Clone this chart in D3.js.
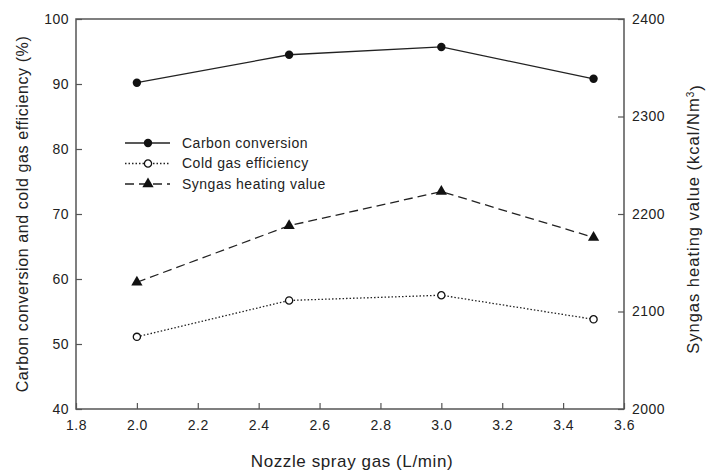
<!DOCTYPE html>
<html>
<head>
<meta charset="utf-8">
<script src="https://cdn.jsdelivr.net/npm/d3@7"></script>
<style>
  body { margin: 0; background: #fff; }
  svg { font-family: "Liberation Sans", Arial, sans-serif; }
</style>
</head>
<body>
<div id="chart"></div>
<script>
const sprayGas = [2.0, 2.5, 3.0, 3.5];
const carbonConversion = [90.2, 94.5, 95.7, 90.8];
const coldGasEfficiency = [51.1, 56.7, 57.5, 53.8];
const heatingValue = [2130, 2188, 2223, 2176];

const xTicks = [1.8, 2.0, 2.2, 2.4, 2.6, 2.8, 3.0, 3.2, 3.4, 3.6];
const yLeftTicks = [40, 50, 60, 70, 80, 90, 100];
const yRightTicks = [2000, 2100, 2200, 2300, 2400];

const legendItems = [
    { label: "Carbon conversion", dash: null, marker: "dot" },
    { label: "Cold gas efficiency", dash: "1.5,2", marker: "circle" },
    { label: "Syngas heating value", dash: "9,5", marker: "triangle" }
];

const W = 706, H = 472;
const margin = { top: 19, right: 82, bottom: 63, left: 76 };
const width = W - margin.left - margin.right;
const height = H - margin.top - margin.bottom;
const axisColor = "#555";
const textColor = "#222";

const svg = d3.select("#chart").append("svg")
    .attr("width", W)
    .attr("height", H);

const g = svg.append("g")
    .attr("transform", `translate(${margin.left},${margin.top})`);

// Scales
const x = d3.scaleLinear().domain([1.8, 3.6]).range([0, width]);
const yL = d3.scaleLinear().domain([40, 100]).range([height, 0]);
const yR = d3.scaleLinear().domain([2000, 2400]).range([height, 0]);

// Axes (ticks point inward)
function styleAxis(sel) {
    sel.select(".domain").remove();
    sel.selectAll(".tick line").attr("stroke", axisColor).attr("stroke-width", 1.2);
    sel.selectAll(".tick text")
        .attr("fill", textColor)
        .style("font-size", "14px")
        .style("letter-spacing", "0.5px");
}

g.append("g")
    .attr("transform", `translate(0,${height})`)
    .call(d3.axisBottom(x).tickValues(xTicks).tickFormat(d3.format(".1f"))
        .tickSizeInner(-6).tickSizeOuter(0).tickPadding(11))
    .call(styleAxis);

g.append("g")
    .call(d3.axisLeft(yL).tickValues(yLeftTicks).tickSizeInner(-6).tickSizeOuter(0).tickPadding(7))
    .call(styleAxis);

g.append("g")
    .attr("transform", `translate(${width},0)`)
    .call(d3.axisRight(yR).tickValues(yRightTicks).tickFormat(d3.format("d"))
        .tickSizeInner(-6).tickSizeOuter(0).tickPadding(8))
    .call(styleAxis);

// Frame
g.append("rect")
    .attr("x", 0).attr("y", 0)
    .attr("width", width).attr("height", height)
    .attr("fill", "none")
    .attr("stroke", axisColor)
    .attr("stroke-width", 1.5);

// Series
const series = [
    { values: carbonConversion, y: yL, dash: null, marker: "dot" },
    { values: coldGasEfficiency, y: yL, dash: "1.5,2", marker: "circle" },
    { values: heatingValue, y: yR, dash: "9,5", marker: "triangle" }
];

const tri = d3.symbol().type(d3.symbolTriangle).size(55);

function drawMarker(sel, type) {
    if (type === "dot") {
        sel.append("circle").attr("r", 4.2).attr("fill", "#111");
    } else if (type === "circle") {
        sel.append("circle").attr("r", 3.6).attr("fill", "#fff")
            .attr("stroke", "#111").attr("stroke-width", 1.3);
    } else {
        sel.append("path").attr("d", tri).attr("fill", "#111");
    }
}

series.forEach(s => {
    const line = d3.line()
        .x((d, i) => x(sprayGas[i]))
        .y(d => s.y(d));
    g.append("path")
        .datum(s.values)
        .attr("d", line)
        .attr("fill", "none")
        .attr("stroke", "#222")
        .attr("stroke-width", 1.3)
        .attr("stroke-dasharray", s.dash);

    s.values.forEach((v, i) => {
        const m = g.append("g")
            .attr("transform", `translate(${x(sprayGas[i])},${s.y(v)})`);
        drawMarker(m, s.marker);
    });
});

// Legend
const legend = svg.append("g").attr("transform", "translate(125,143)");
legendItems.forEach((d, i) => {
    const row = legend.append("g").attr("transform", `translate(0,${i * 20.5})`);
    row.append("line")
        .attr("x1", 0).attr("x2", 45)
        .attr("stroke", "#222").attr("stroke-width", 1.3)
        .attr("stroke-dasharray", d.dash);
    const m = row.append("g").attr("transform", "translate(23,0)");
    drawMarker(m, d.marker);
    row.append("text")
        .attr("x", 57).attr("y", 0)
        .attr("dy", "0.35em")
        .attr("fill", textColor)
        .style("font-size", "14px")
        .style("letter-spacing", "0.5px")
        .text(d.label);
});

// Axis titles
svg.append("text")
    .attr("x", 352)
    .attr("y", 467)
    .attr("text-anchor", "middle")
    .attr("fill", textColor)
    .style("font-size", "17px")
    .style("letter-spacing", "0.6px")
    .text("Nozzle spray gas (L/min)");

svg.append("text")
    .attr("transform", `translate(28,214) rotate(-90)`)
    .attr("text-anchor", "middle")
    .attr("fill", textColor)
    .style("font-size", "16px")
    .style("letter-spacing", "0.6px")
    .text("Carbon conversion and cold gas efficiency (%)");

const rt = svg.append("text")
    .attr("transform", `translate(699,219) rotate(-90)`)
    .attr("text-anchor", "middle")
    .attr("fill", textColor)
    .style("font-size", "16.5px")
    .style("letter-spacing", "1px");
rt.append("tspan").text("Syngas heating value (kcal/Nm");
rt.append("tspan").attr("dy", "-0.5em").style("font-size", "10px").text("3");
rt.append("tspan").attr("dy", "0.5em").text(")");
</script>
</body>
</html>
